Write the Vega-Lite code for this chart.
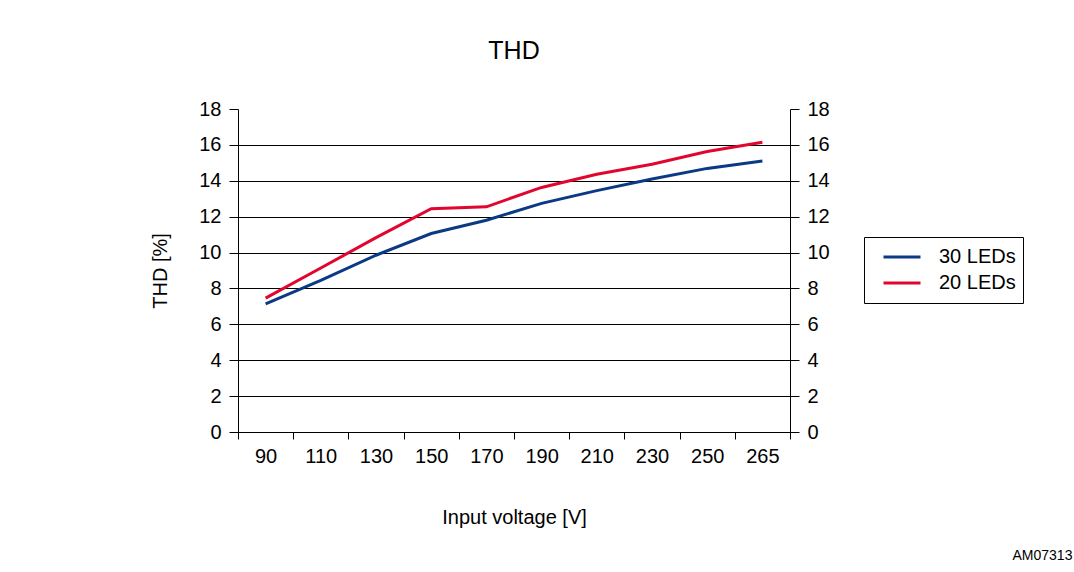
{
  "$schema": "https://vega.github.io/schema/vega-lite/v6.json",
  "width": 552,
  "height": 323,
  "autosize": {"type": "none"},
  "padding": {"left": 238, "top": 109, "right": 284, "bottom": 140},
  "background": "white",
  "config": {
    "font": "Liberation Sans",
    "view": {"stroke": null}
  },
  "title": {
    "text": "THD",
    "fontSize": 25,
    "fontWeight": "normal",
    "color": "black",
    "anchor": "middle",
    "offset": 35
  },
  "data": {
    "values": [
      {"v": "90", "s": "30 LEDs", "thd": 7.14},
      {"v": "110", "s": "30 LEDs", "thd": 8.45},
      {"v": "130", "s": "30 LEDs", "thd": 9.85},
      {"v": "150", "s": "30 LEDs", "thd": 11.06},
      {"v": "170", "s": "30 LEDs", "thd": 11.8},
      {"v": "190", "s": "30 LEDs", "thd": 12.74},
      {"v": "210", "s": "30 LEDs", "thd": 13.45},
      {"v": "230", "s": "30 LEDs", "thd": 14.1},
      {"v": "250", "s": "30 LEDs", "thd": 14.69},
      {"v": "265", "s": "30 LEDs", "thd": 15.1},
      {"v": "90", "s": "20 LEDs", "thd": 7.46},
      {"v": "110", "s": "20 LEDs", "thd": 9.14},
      {"v": "130", "s": "20 LEDs", "thd": 10.83},
      {"v": "150", "s": "20 LEDs", "thd": 12.44},
      {"v": "170", "s": "20 LEDs", "thd": 12.55},
      {"v": "190", "s": "20 LEDs", "thd": 13.63},
      {"v": "210", "s": "20 LEDs", "thd": 14.36},
      {"v": "230", "s": "20 LEDs", "thd": 14.92},
      {"v": "250", "s": "20 LEDs", "thd": 15.63},
      {"v": "265", "s": "20 LEDs", "thd": 16.15}
    ]
  },
  "encoding": {
    "x": {
      "field": "v",
      "type": "ordinal",
      "sort": null,
      "scale": {"type": "band", "paddingInner": 0, "paddingOuter": 0},
      "axis": {
        "title": "Input voltage [V]",
        "titleFontSize": 20,
        "titleFontWeight": "normal",
        "titleColor": "black",
        "titlePadding": 41,
        "labelAngle": 0,
        "labelFontSize": 20,
        "labelColor": "black",
        "labelPadding": 7,
        "tickBand": "extent",
        "tickColor": "black",
        "tickSize": 7,
        "domainColor": "black",
        "domainWidth": 1,
        "grid": false
      }
    },
    "y": {
      "field": "thd",
      "type": "quantitative",
      "scale": {"domain": [0, 18], "nice": false, "zero": true}
    },
    "color": {
      "field": "s",
      "type": "nominal",
      "scale": {"domain": ["30 LEDs", "20 LEDs"], "range": ["#0b3a85", "#e1062f"]},
      "legend": {
        "title": null,
        "orient": "none",
        "legendX": 626,
        "legendY": 128,
        "strokeColor": "black",
        "fillColor": "white",
        "padding": 7,
        "symbolType": "stroke",
        "symbolStrokeWidth": 3,
        "symbolSize": 1369,
        "symbolOffset": 11,
        "clipHeight": 26,
        "labelFontSize": 20,
        "labelColor": "black",
        "labelOffset": 17,
        "rowPadding": 0
      }
    }
  },
  "layer": [
    {
      "mark": {"type": "line", "strokeWidth": 3},
      "encoding": {
        "y": {
          "field": "thd",
          "type": "quantitative",
          "axis": {
            "orient": "left",
            "values": [0, 2, 4, 6, 8, 10, 12, 14, 16, 18],
            "title": "THD [%]",
            "titleFontSize": 20,
            "titleFontWeight": "normal",
            "titleColor": "black",
            "titlePadding": 28,
            "labelFontSize": 20,
            "labelColor": "black",
            "labelPadding": 8,
            "tickColor": "black",
            "tickSize": 9,
            "domainColor": "black",
            "grid": true,
            "gridWidth": 1,
            "gridColor": {"condition": {"test": "datum.value >= 18", "value": "transparent"}, "value": "black"}
          }
        }
      }
    },
    {
      "mark": {"type": "line", "strokeWidth": 3, "strokeOpacity": 0},
      "encoding": {
        "y": {
          "field": "thd",
          "type": "quantitative",
          "axis": {
            "orient": "right",
            "values": [0, 2, 4, 6, 8, 10, 12, 14, 16, 18],
            "title": "AM07313",
            "titleAngle": 0,
            "titleX": 222,
            "titleY": 446,
            "titleAlign": "left",
            "titleBaseline": "middle",
            "titleFontSize": 14,
            "titleFontWeight": "normal",
            "titleColor": "black",
            "labelFontSize": 20,
            "labelColor": "black",
            "labelPadding": 8,
            "tickColor": "black",
            "tickSize": 9,
            "domainColor": "black",
            "grid": false
          }
        }
      }
    }
  ],
  "resolve": {"axis": {"y": "independent"}}
}
